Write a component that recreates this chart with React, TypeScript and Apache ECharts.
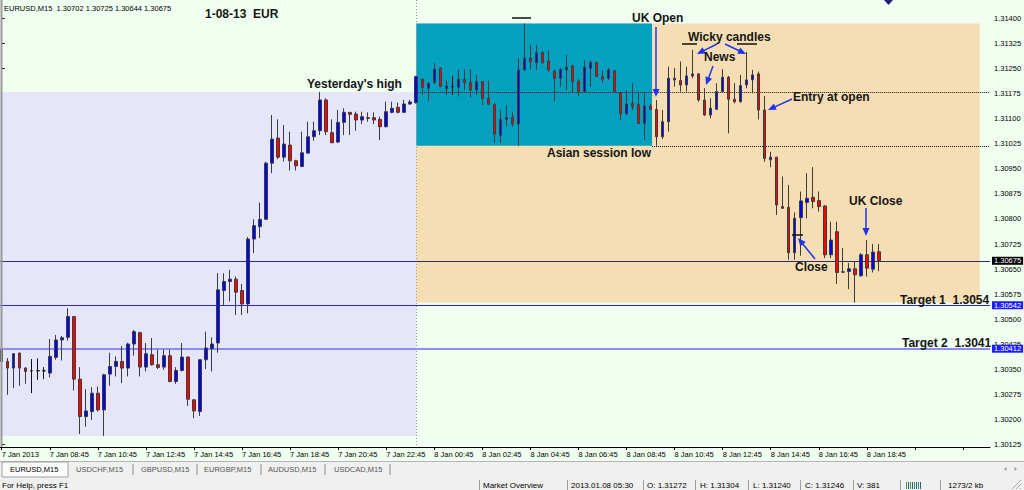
import { useEffect, useRef } from "react";
import * as echarts from "echarts";

const FONT = "'Liberation Sans', Arial, sans-serif";

// EURUSD M15 bars, 7 Jan 2013 06:45 through 8 Jan 2013 19:30
const opens = [
  1.30409, 1.30374, 1.30354, 1.30399, 1.30354, 1.30346, 1.30346, 1.30346, 1.30339, 1.30386,
  1.30438, 1.30446, 1.30508, 1.30321, 1.30209, 1.30224, 1.30279, 1.30229, 1.30336, 1.30359,
  1.30374, 1.30354, 1.30426, 1.3046, 1.30357, 1.30394, 1.30364, 1.30357, 1.30391, 1.30314,
  1.30347, 1.30387, 1.30259, 1.30224, 1.30379, 1.30412, 1.30429, 1.30586, 1.30613, 1.3062,
  1.30586, 1.30546, 1.3074, 1.30777, 1.30799, 1.30967, 1.31042, 1.30985, 1.31021, 1.30974,
  1.30957, 1.30997, 1.31046, 1.31064, 1.31156, 1.31058, 1.3103, 1.31089, 1.31119, 1.31114,
  1.31096, 1.31103, 1.31103, 1.31098, 1.31076, 1.31119, 1.31134, 1.31119, 1.31144, 1.31148,
  1.31218, 1.31191, 1.31208, 1.31251, 1.3119, 1.31196, 1.31194, 1.31218, 1.31208, 1.31186,
  1.31211, 1.31161, 1.31143, 1.3105, 1.31098, 1.31104, 1.31084, 1.31246, 1.31281, 1.31268,
  1.31297, 1.31272, 1.31242, 1.31221, 1.31246, 1.31258, 1.31213, 1.31181, 1.31251, 1.31268,
  1.31226, 1.31221, 1.31243, 1.31178, 1.31114, 1.31146, 1.31143, 1.31086, 1.31138, 1.31128,
  1.31046, 1.31091, 1.31221, 1.31214, 1.31201, 1.31228, 1.31234, 1.31156, 1.31111, 1.31128,
  1.31181, 1.31224, 1.31158, 1.31151, 1.31201, 1.31216, 1.31234, 1.31126, 1.30977, 1.30985,
  1.30837, 1.30835, 1.30699, 1.30804, 1.30849, 1.30865, 1.30855, 1.30839, 1.30693, 1.30762,
  1.30642, 1.30643, 1.30651, 1.3063, 1.30693, 1.3065, 1.30702,
];
const highs = [
  1.30433, 1.30384, 1.30399, 1.304, 1.30357, 1.30381, 1.30383, 1.30357, 1.30441, 1.30453,
  1.3045, 1.30533, 1.3051, 1.30357, 1.30291, 1.30297, 1.30299, 1.30337, 1.304, 1.30389,
  1.3042, 1.3043, 1.30468, 1.30463, 1.30429, 1.30444, 1.30409, 1.30409, 1.30409, 1.30357,
  1.30429, 1.30389, 1.30261, 1.30381, 1.30463, 1.30446, 1.30638, 1.30638, 1.30648, 1.30628,
  1.30606, 1.30746, 1.30799, 1.30849, 1.30971, 1.31111, 1.31098, 1.31081, 1.31061, 1.30977,
  1.31061, 1.31091, 1.31091, 1.3118, 1.31161, 1.31098, 1.31126, 1.31131, 1.3112, 1.31121,
  1.31121, 1.31119, 1.31119, 1.31106, 1.31151, 1.31151, 1.31148, 1.31156, 1.31156, 1.31228,
  1.3122, 1.31208, 1.31266, 1.31254, 1.31216, 1.31228, 1.31246, 1.31248, 1.31248, 1.31231,
  1.31213, 1.31214, 1.31146, 1.31126, 1.31141, 1.31121, 1.31281, 1.31385, 1.3132, 1.3132,
  1.31303, 1.31304, 1.31248, 1.31251, 1.31291, 1.31261, 1.31218, 1.31274, 1.31274, 1.31271,
  1.31244, 1.31251, 1.31246, 1.3118, 1.31186, 1.31206, 1.31181, 1.31176, 1.31144, 1.31156,
  1.31126, 1.31256, 1.31251, 1.31271, 1.31256, 1.31306, 1.31236, 1.31191, 1.31161, 1.31206,
  1.31248, 1.31228, 1.31206, 1.31231, 1.313, 1.31246, 1.31241, 1.31168, 1.31001, 1.30986,
  1.30927, 1.30902, 1.3082, 1.30882, 1.30937, 1.30955, 1.30882, 1.30842, 1.30792, 1.30792,
  1.30713, 1.30668, 1.30673, 1.30698, 1.30737, 1.30725, 1.30725,
];
const lows = [
  1.30339, 1.30274, 1.30294, 1.30301, 1.30307, 1.30279, 1.30319, 1.30321, 1.30326, 1.30379,
  1.30377, 1.30436, 1.30287, 1.30157, 1.30179, 1.30199, 1.30224, 1.30151, 1.30301, 1.30329,
  1.30309, 1.30329, 1.30391, 1.30329, 1.30344, 1.30361, 1.30351, 1.30349, 1.30312, 1.30307,
  1.30344, 1.30241, 1.30204, 1.30211, 1.30351, 1.30344, 1.304, 1.30543, 1.30553, 1.30513,
  1.30513, 1.30518, 1.30698, 1.30743, 1.30797, 1.30937, 1.30979, 1.30972, 1.30945, 1.30945,
  1.30955, 1.30995, 1.31034, 1.31051, 1.31051, 1.31027, 1.31027, 1.31051, 1.31051, 1.31064,
  1.31084, 1.31091, 1.31084, 1.31036, 1.31074, 1.31116, 1.31116, 1.31117, 1.31141, 1.31145,
  1.31171, 1.31154, 1.31204, 1.31194, 1.31171, 1.31171, 1.31166, 1.31186, 1.31164, 1.31171,
  1.31141, 1.31141, 1.31027, 1.31027, 1.31076, 1.31076, 1.31019, 1.31244, 1.31246, 1.31246,
  1.31264, 1.3124, 1.31151, 1.31194, 1.31186, 1.31176, 1.31168, 1.31178, 1.31196, 1.31225,
  1.31208, 1.31216, 1.31178, 1.31096, 1.31113, 1.31126, 1.31084, 1.31036, 1.31126, 1.31019,
  1.31039, 1.31061, 1.31196, 1.31181, 1.31181, 1.31221, 1.31151, 1.31108, 1.31101, 1.31126,
  1.31181, 1.31056, 1.31146, 1.31148, 1.31191, 1.31176, 1.31098, 1.30971, 1.30955, 1.30812,
  1.3083, 1.30678, 1.30678, 1.3069, 1.30802, 1.30832, 1.30822, 1.30683, 1.30683, 1.30606,
  1.30638, 1.3059, 1.3055, 1.30628, 1.30628, 1.3064, 1.30644,
];
const closes = [
  1.30374, 1.30354, 1.30397, 1.30354, 1.30344, 1.30346, 1.30346, 1.30346, 1.30389, 1.30438,
  1.30445, 1.30508, 1.30321, 1.30209, 1.30226, 1.30279, 1.30229, 1.30334, 1.30359, 1.30374,
  1.30354, 1.30426, 1.30463, 1.30357, 1.30397, 1.30364, 1.30356, 1.30391, 1.30314, 1.30347,
  1.30387, 1.30261, 1.30226, 1.30379, 1.30414, 1.30426, 1.30588, 1.30613, 1.3062, 1.30581,
  1.30546, 1.3074, 1.3078, 1.30799, 1.30967, 1.31039, 1.30985, 1.31024, 1.30974, 1.30959,
  1.30998, 1.31046, 1.31064, 1.31156, 1.31061, 1.31028, 1.31089, 1.31119, 1.31113, 1.31096,
  1.31106, 1.31101, 1.31096, 1.31076, 1.31121, 1.31131, 1.31119, 1.31144, 1.3115, 1.31226,
  1.31194, 1.31206, 1.31248, 1.31196, 1.31198, 1.31196, 1.31218, 1.31208, 1.31186, 1.31211,
  1.31161, 1.31143, 1.31054, 1.31098, 1.31104, 1.31084, 1.31246, 1.31281, 1.31271, 1.31297,
  1.31268, 1.31246, 1.31221, 1.31248, 1.31254, 1.31211, 1.31181, 1.31254, 1.31268, 1.31226,
  1.31218, 1.31246, 1.31181, 1.31114, 1.31144, 1.31136, 1.31086, 1.31138, 1.31128, 1.31046,
  1.31091, 1.31221, 1.31216, 1.31201, 1.31228, 1.31234, 1.31156, 1.31111, 1.31131, 1.31181,
  1.31224, 1.31158, 1.31151, 1.31199, 1.31216, 1.31231, 1.31126, 1.30981, 1.30985, 1.30842,
  1.30832, 1.30699, 1.30802, 1.30854, 1.30862, 1.30852, 1.30837, 1.30693, 1.30737, 1.3064,
  1.30641, 1.30651, 1.30633, 1.30693, 1.30653, 1.30701, 1.30675,
];

// time axis: one slot per 15-minute bar, labelled every 8 bars (2 hours)
const slotCount = 165;
const labelStep = 8;
const timeLabels = [
  "7 Jan 2013", "7 Jan 08:45", "7 Jan 10:45", "7 Jan 12:45", "7 Jan 14:45",
  "7 Jan 16:45", "7 Jan 18:45", "7 Jan 20:45", "7 Jan 22:45", "8 Jan 00:45",
  "8 Jan 02:45", "8 Jan 04:45", "8 Jan 06:45", "8 Jan 08:45", "8 Jan 10:45",
  "8 Jan 12:45", "8 Jan 14:45", "8 Jan 16:45", "8 Jan 18:45",
];
const priceTicks = [
  1.30125, 1.302, 1.30275, 1.3035, 1.30425, 1.305, 1.30575, 1.3065, 1.30725,
  1.308, 1.30875, 1.3095, 1.31025, 1.311, 1.31175, 1.3125, 1.31325, 1.314,
];

// levels and session ranges
const lastPrice = 1.30675;
const target1 = 1.30542;
const target2 = 1.30412;
const yesterdayHigh = 1.3118;
const yesterdayLow = 1.30151;
const todayHigh = 1.31385;
const todayLow = 1.3055;
const asianLow = 1.31019;
const dayStartBar = 69;
const asianEndBar = 108.25;
const rangeEndBar = 162.8;

const notes = [
  { text: "1-08-13  EUR", x: 205, y: 14 },
  { text: "Yesterday's high", x: 307, y: 84 },
  { text: "UK Open", x: 632, y: 18 },
  { text: "Wicky candles", x: 688, y: 37 },
  { text: "News", x: 704, y: 57 },
  { text: "Entry at open", x: 793, y: 97 },
  { text: "Asian session low", x: 547, y: 153 },
  { text: "UK Close", x: 849, y: 201 },
  { text: "Close", x: 795, y: 267 },
  { text: "Target 1  1.3054", x: 900, y: 300 },
  { text: "Target 2  1.3041", x: 902, y: 343 },
];

const arrowList = [
  [656, 27, 656, 97],
  [717, 44, 697, 54],
  [725, 44, 746, 54],
  [713, 66, 706, 85],
  [792, 99, 768, 110],
  [866, 208, 866, 236],
  [815, 259, 798, 238],
];

const markerLines = [
  [512, 18, 531, 18],
  [682, 44, 697, 44],
  [737, 44, 757, 44],
  [792, 235, 803, 235],
];

const tabs = ["EURUSD,M15", "USDCHF,M15", "GBPUSD,M15", "EURGBP,M15", "AUDUSD,M15", "USDCAD,M15"];
const tabX = [10, 76, 141, 204, 268, 334];
const tabSeps = [133, 197, 261, 325, 390];

const statusItems = [
  { text: "For Help, press F1", x: 2 },
  { text: "Market Overview", x: 483 },
  { text: "2013.01.08 05:30", x: 571 },
  { text: "O: 1.31272", x: 647 },
  { text: "H: 1.31304", x: 700 },
  { text: "L: 1.31240", x: 753 },
  { text: "C: 1.31246", x: 805 },
  { text: "V: 381", x: 857 },
  { text: "1273/2 kb", x: 948 },
];
const statusSeps = [479, 567, 643, 695, 748, 800, 853, 900, 940];

function arrow(x1: number, y1: number, x2: number, y2: number, color: string) {
  const dx = x2 - x1;
  const dy = y2 - y1;
  const len = Math.hypot(dx, dy);
  const ux = dx / len;
  const uy = dy / len;
  const hl = 8;
  const hw = 3.5;
  const bx = x2 - ux * hl;
  const by = y2 - uy * hl;
  return [
    { type: "line", z: 100, shape: { x1, y1, x2: bx + ux, y2: by + uy }, style: { stroke: color, lineWidth: 1.5 } },
    {
      type: "polygon",
      z: 100,
      shape: { points: [[x2, y2], [bx - uy * hw, by + ux * hw], [bx + uy * hw, by - ux * hw]] },
      style: { fill: color },
    },
  ];
}

// full-width horizontal level with a price tag on the axis
function level(price: number, color: string, width: number, tag: string) {
  return [
    {
      coord: [-0.5, price],
      lineStyle: { color, width, type: "solid" },
      label: {
        show: true,
        position: "end",
        distance: 2,
        formatter: price.toFixed(5),
        backgroundColor: tag,
        color: "#ffffff",
        fontFamily: FONT,
        fontSize: 7.5,
        lineHeight: 8,
        padding: [0, 2, 0, 2],
      },
    },
    { coord: [slotCount - 0.5, price] },
  ];
}

function dotted(fromBar: number, price: number) {
  return [
    { coord: [fromBar, price], lineStyle: { color: "#111", width: 1, type: [1, 1] }, label: { show: false } },
    { coord: [slotCount - 0.5, price] },
  ];
}

function buildOption() {
  const candles = opens.map((o, i) => [o, closes[i], lows[i], highs[i]]);
  const slots = Array.from({ length: slotCount }, (_, i) => String(i));
  const showSlot = (index: number) => index % labelStep === 0;

  const graphics: any[] = [];

  // window border on the left
  graphics.push({ type: "line", z: 100, shape: { x1: 1.5, y1: 0, x2: 1.5, y2: 447 }, style: { stroke: "#9a9a9a", lineWidth: 2 } });

  // chart caption
  graphics.push({
    type: "text",
    z: 100,
    x: 4,
    y: 8,
    style: { text: "EURUSD,M15  1.30702 1.30725 1.30644 1.30675", font: `7.5px ${FONT}`, fill: "#000", verticalAlign: "middle" },
  });

  // small marker at the top edge
  graphics.push({ type: "polygon", z: 100, shape: { points: [[884, 0], [893, 0], [888.5, 5]] }, style: { fill: "#20207a" } });

  for (const n of notes) {
    graphics.push({
      type: "text",
      z: 101,
      x: n.x,
      y: n.y,
      style: {
        text: n.text,
        font: `bold 12px ${FONT}`,
        fill: "#151515",
        verticalAlign: "middle",
        shadowColor: "rgba(0,0,0,0.45)",
        shadowBlur: 3,
        shadowOffsetX: 2,
        shadowOffsetY: 2,
      },
    });
  }
  for (const a of arrowList) graphics.push(...arrow(a[0], a[1], a[2], a[3], "#2233ee"));
  for (const m of markerLines) {
    graphics.push({ type: "line", z: 100, shape: { x1: m[0], y1: m[1], x2: m[2], y2: m[3] }, style: { stroke: "#111", lineWidth: 1.5 } });
  }

  // symbol tabs
  graphics.push({ type: "rect", z: 100, shape: { x: 0, y: 461, width: 1024, height: 29 }, style: { fill: "#f0f0f0" } });
  graphics.push({ type: "line", z: 100, shape: { x1: 0, y1: 461.5, x2: 1024, y2: 461.5 }, style: { stroke: "#b4b4b4", lineWidth: 1 } });
  graphics.push({ type: "rect", z: 100, shape: { x: 2, y: 462, width: 66, height: 15 }, style: { fill: "#fbfbfb", stroke: "#a0a0a0", lineWidth: 1 } });
  tabs.forEach((t, i) => {
    graphics.push({
      type: "text",
      z: 101,
      x: tabX[i],
      y: 469.5,
      style: { text: t, font: `7.5px ${FONT}`, fill: i === 0 ? "#000" : "#555", verticalAlign: "middle" },
    });
  });
  for (const s of tabSeps) {
    graphics.push({ type: "line", z: 100, shape: { x1: s, y1: 464, x2: s, y2: 475 }, style: { stroke: "#8a8a8a", lineWidth: 1 } });
  }
  graphics.push({ type: "polygon", z: 100, shape: { points: [[1004, 469], [1006.5, 467], [1006.5, 471]] }, style: { fill: "#999" } });
  graphics.push({ type: "polygon", z: 100, shape: { points: [[1017, 469], [1014.5, 467], [1014.5, 471]] }, style: { fill: "#999" } });

  // status bar
  for (const s of statusItems) {
    graphics.push({
      type: "text",
      z: 101,
      x: s.x,
      y: 485.5,
      style: { text: s.text, font: `8px ${FONT}`, fill: "#000", verticalAlign: "middle" },
    });
  }
  for (const s of statusSeps) {
    graphics.push({ type: "line", z: 100, shape: { x1: s + 0.5, y1: 480, x2: s + 0.5, y2: 490 }, style: { stroke: "#a0a0a0", lineWidth: 1 } });
  }
  const iconColors = ["#3a9a3a", "#2a5ab0", "#3a9a3a", "#2a5ab0", "#3a9a3a", "#2a5ab0", "#3a9a3a", "#2a5ab0"];
  iconColors.forEach((c, i) => {
    graphics.push({ type: "rect", z: 100, shape: { x: 906 + i * 2, y: 482, width: 1, height: 7 }, style: { fill: c } });
  });
  for (let k = 0; k < 3; k++) {
    graphics.push({
      type: "line",
      z: 100,
      shape: { x1: 1020 - k * 4, y1: 489, x2: 1021, y2: 488 - k * 4 },
      style: { stroke: "#a8a8a8", lineWidth: 1 },
    });
  }

  return {
    animation: false,
    backgroundColor: "#f0fff0",
    textStyle: { fontFamily: FONT },
    grid: { left: -1.3, right: 34, top: 0, bottom: 43, containLabel: false, outerBoundsMode: "none" },
    xAxis: [
      {
        type: "category",
        data: slots,
        boundaryGap: true,
        axisLine: { show: true, lineStyle: { color: "#000", width: 1 } },
        axisTick: { show: true, interval: showSlot, alignWithLabel: true, length: 3, lineStyle: { color: "#000" } },
        axisLabel: {
          interval: showSlot,
          formatter: (_v: string, idx: number) => timeLabels[idx / labelStep] ?? "",
          align: "left",
          fontSize: 7.5,
          color: "#000",
          fontFamily: FONT,
          margin: 3,
          hideOverlap: false,
        },
        splitLine: { show: false },
      },
      { type: "value", min: -0.5, max: slotCount - 0.5, show: false },
    ],
    yAxis: {
      type: "value",
      position: "right",
      min: 1.30118,
      max: 1.31455,
      axisLine: { show: true, lineStyle: { color: "#000", width: 1 } },
      axisTick: { show: true, customValues: priceTicks, length: 3, lineStyle: { color: "#000" } },
      axisLabel: {
        customValues: priceTicks,
        formatter: (v: number) => v.toFixed(5),
        fontSize: 7.5,
        color: "#000",
        fontFamily: FONT,
        margin: 4,
        hideOverlap: false,
      },
      splitLine: { show: false },
    },
    series: [
      {
        name: "ranges",
        type: "line",
        xAxisIndex: 1,
        yAxisIndex: 0,
        data: [],
        silent: true,
        z: 1,
        markArea: {
          silent: true,
          label: { show: false },
          data: [
            [
              { coord: [-0.5, yesterdayHigh], itemStyle: { color: "#e5e6fa", opacity: 1, borderWidth: 0 } },
              { coord: [dayStartBar, yesterdayLow] },
            ],
            [
              { coord: [dayStartBar, todayHigh], itemStyle: { color: "#f5deb3", opacity: 1, borderWidth: 0 } },
              { coord: [rangeEndBar, todayLow] },
            ],
            [
              { coord: [dayStartBar, todayHigh], itemStyle: { color: "#03a0c0", opacity: 1, borderWidth: 0 } },
              { coord: [asianEndBar, asianLow] },
            ],
          ],
        },
      },
      {
        name: "levels",
        type: "line",
        xAxisIndex: 1,
        yAxisIndex: 0,
        data: [],
        silent: true,
        z: 2,
        markLine: {
          silent: true,
          symbol: ["none", "none"],
          label: { show: false },
          emphasis: { disabled: true },
          data: [
            [
              { coord: [dayStartBar, 1.31455], lineStyle: { color: "#9a9a9a", width: 1, type: [1, 2] }, label: { show: false } },
              { coord: [dayStartBar, 1.30118] },
            ],
            dotted(dayStartBar, yesterdayHigh),
            dotted(asianEndBar, asianLow),
            level(lastPrice, "#2e2e6a", 1, "#000000"),
            level(target1, "#2424ff", 1, "#1c1cff"),
            level(target2, "#8c8cf2", 2, "#1c1cff"),
          ],
        },
      },
      {
        name: "EURUSD,M15",
        type: "candlestick",
        xAxisIndex: 0,
        yAxisIndex: 0,
        data: candles,
        barWidth: 3,
        silent: true,
        z: 5,
        itemStyle: {
          color: "#0000ff",
          color0: "#ff0000",
          borderColor: "#3c3c3c",
          borderColor0: "#3c3c3c",
          borderColorDoji: "#111111",
          borderWidth: 1,
        },
      },
    ],
    graphic: graphics,
  };
}

export default function App() {
  const ref = useRef<HTMLDivElement>(null);
  useEffect(() => {
    if (!ref.current) return;
    const chart = echarts.init(ref.current, null, { renderer: "svg" });
    chart.setOption(buildOption() as any);
    return () => chart.dispose();
  }, []);
  return (
    <div
      ref={ref}
      style={{ position: "fixed", left: 0, top: 0, width: 1024, height: 490, background: "#f0fff0" }}
    />
  );
}
